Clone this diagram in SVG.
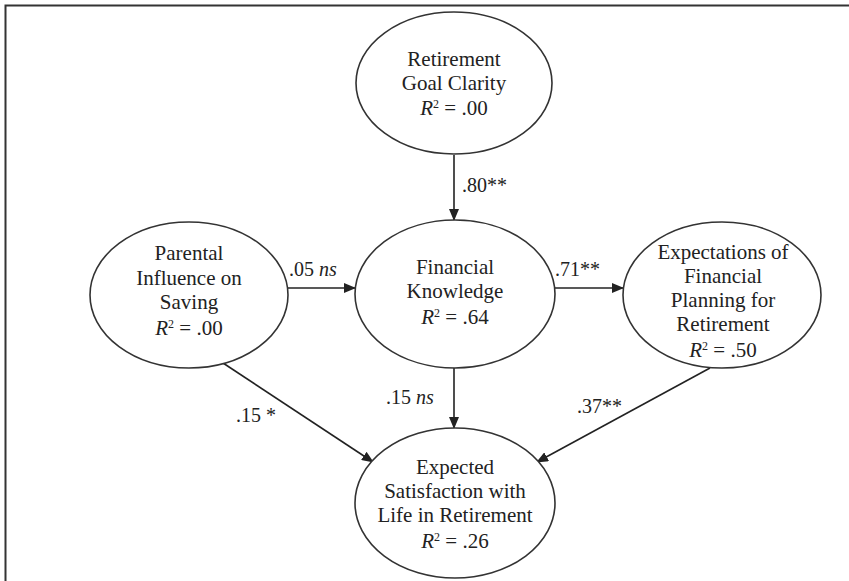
<svg xmlns="http://www.w3.org/2000/svg" width="849" height="581" viewBox="0 0 849 581">
<style>
.node ellipse{fill:#fff;stroke:#333;stroke-width:1.6}
.node text{font-family:"Liberation Serif","Times New Roman",serif;font-size:21px;fill:#222;text-anchor:middle}
.lbl{font-family:"Liberation Serif","Times New Roman",serif;font-size:20px;fill:#222}
.conn line{stroke:#222;stroke-width:1.6;marker-end:url(#ah)}
.it{font-style:italic}
.sup{font-size:12px}
</style>
<defs>
<marker id="ah" markerWidth="12" markerHeight="10" refX="11" refY="5" orient="auto" markerUnits="userSpaceOnUse">
<path d="M0,0 L12,5 L0,10 z" fill="#222"/>
</marker>
</defs>
<rect x="0" y="0" width="849" height="581" fill="#fff"/>
<path d="M5.5,581 V5.5 H849" fill="none" stroke="#333" stroke-width="2"/>
<g class="conn">
<line x1="454" y1="155" x2="454" y2="220"/>
<line x1="288" y1="288" x2="355" y2="288"/>
<line x1="555" y1="288" x2="623" y2="288"/>
<line x1="454" y1="368" x2="454" y2="428"/>
<line x1="223" y1="363" x2="373" y2="462"/>
<line x1="710" y1="368" x2="537" y2="462"/>
</g>
<g id="goal" class="node">
<ellipse cx="454" cy="83" rx="98" ry="71"/>
<text x="454" y="66">Retirement</text>
<text x="454" y="90">Goal Clarity</text>
<text x="454" y="115"><tspan class="it">R</tspan><tspan class="sup" dy="-7">2</tspan><tspan dy="7"> = .00</tspan></text>
</g>
<g id="parental" class="node">
<ellipse cx="189" cy="295" rx="99" ry="73"/>
<text x="189" y="260">Parental</text>
<text x="189" y="285">Influence on</text>
<text x="189" y="309">Saving</text>
<text x="189" y="335"><tspan class="it">R</tspan><tspan class="sup" dy="-7">2</tspan><tspan dy="7"> = .00</tspan></text>
</g>
<g id="knowledge" class="node">
<ellipse cx="455" cy="294" rx="100" ry="74"/>
<text x="455" y="274">Financial</text>
<text x="455" y="298">Knowledge</text>
<text x="455" y="324"><tspan class="it">R</tspan><tspan class="sup" dy="-7">2</tspan><tspan dy="7"> = .64</tspan></text>
</g>
<g id="expectations" class="node">
<ellipse cx="722" cy="295" rx="99" ry="73"/>
<text x="723" y="259">Expectations of</text>
<text x="723" y="283">Financial</text>
<text x="723" y="307">Planning for</text>
<text x="723" y="331">Retirement</text>
<text x="723" y="357"><tspan class="it">R</tspan><tspan class="sup" dy="-7">2</tspan><tspan dy="7"> = .50</tspan></text>
</g>
<g id="satisfaction" class="node">
<ellipse cx="455" cy="503" rx="100" ry="75"/>
<text x="455" y="474">Expected</text>
<text x="455" y="498">Satisfaction with</text>
<text x="455" y="522">Life in Retirement</text>
<text x="455" y="548"><tspan class="it">R</tspan><tspan class="sup" dy="-7">2</tspan><tspan dy="7"> = .26</tspan></text>
</g>
<g id="labels">
<text class="lbl" x="462" y="192">.80**</text>
<text class="lbl" x="289" y="276">.05 <tspan class="it">ns</tspan></text>
<text class="lbl" x="555" y="276">.71**</text>
<text class="lbl" x="386" y="404">.15 <tspan class="it">ns</tspan></text>
<text class="lbl" x="577" y="413">.37**</text>
<text class="lbl" x="236" y="422">.15 *</text>
</g>
</svg>
